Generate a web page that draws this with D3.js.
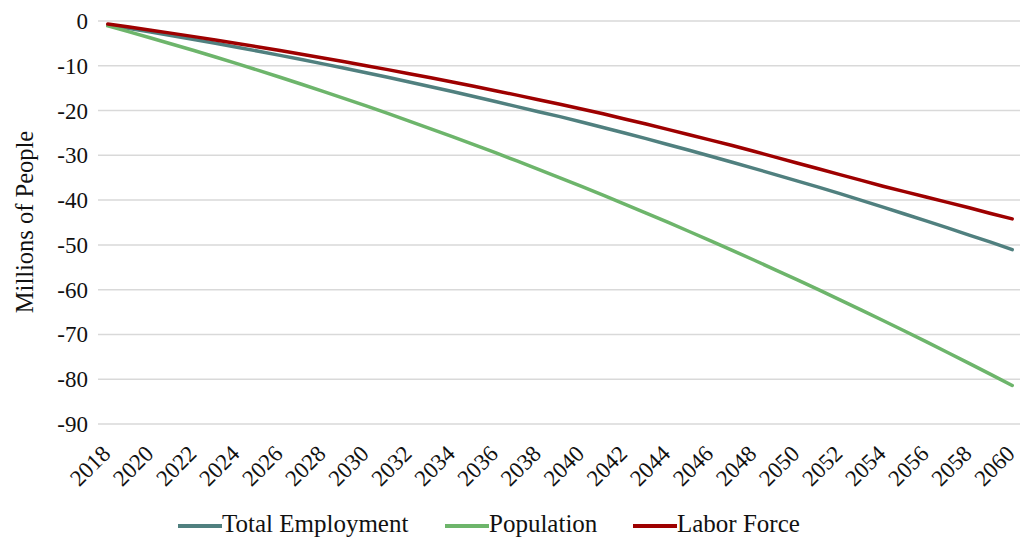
<!DOCTYPE html>
<html>
<head>
<meta charset="utf-8">
<script src="https://cdn.jsdelivr.net/npm/d3@7"></script>
<style>
  html, body { margin: 0; padding: 0; background: #fff; }
  svg { display: block; }
</style>
</head>
<body>
<svg id="chart" width="1020" height="539"></svg>
<script>
const years = d3.range(2018, 2061);
const yTicks = [0, -10, -20, -30, -40, -50, -60, -70, -80, -90];
const xTickYears = d3.range(2018, 2061, 2);

const totalEmployment = [
  -0.90, -1.68, -2.47, -3.29, -4.12, -4.98, -5.86, -6.75, -7.67, -8.61,
  -9.57, -10.55, -11.55, -12.57, -13.61, -14.67, -15.75, -16.85, -17.98, -19.12,
  -20.28, -21.36, -22.55, -23.77, -25.02, -26.28, -27.57, -28.87, -30.2, -31.54,
  -32.9, -34.3, -35.7, -37.1, -38.55, -40.05, -41.56, -43.1, -44.65, -46.2,
  -47.8, -49.4, -51.05
];
const population = [
  -1.10, -2.43, -3.80, -5.19, -6.60, -8.05, -9.52, -11.03, -12.56, -14.12,
  -15.71, -17.32, -18.97, -20.64, -22.34, -24.07, -25.82, -27.61, -29.42, -31.26,
  -33.13, -35.03, -36.96, -38.91, -40.89, -42.90, -44.94, -47.01, -49.11, -51.23,
  -53.38, -55.56, -57.77, -60.01, -62.27, -64.56, -66.89, -69.24, -71.61, -74.02,
  -76.45, -78.91, -81.41
];
const laborForce = [
  -0.67, -1.35, -2.05, -2.76, -3.49, -4.24, -5.01, -5.79, -6.60, -7.41,
  -8.25, -9.10, -9.98, -10.86, -11.77, -12.69, -13.63, -14.59, -15.57, -16.56,
  -17.57, -18.60, -19.64, -20.71, -21.9, -23.0, -24.2, -25.4, -26.6, -27.8,
  -29.1, -30.4, -31.7, -33.0, -34.3, -35.6, -36.9, -38.1, -39.3, -40.5,
  -41.7, -43.0, -44.2
];

const seriesNames = ["Total Employment", "Population", "Labor Force"];
const seriesColors = ["#50807f", "#6db56b", "#9e0000"];
const seriesData = [totalEmployment, population, laborForce];

const FONT = "'Liberation Serif', Tinos, 'Times New Roman', Times, 'DejaVu Serif', serif";

const svg = d3.select("#chart").attr("font-family", FONT);
svg.append("rect").attr("width", 1020).attr("height", 539).attr("fill", "#fff");

const x = d3.scalePoint().domain(years).range([97, 1023]).padding(0.5);
const y = d3.scaleLinear().domain([-90, 0]).range([424, 21]);

// gridlines
svg.append("g").selectAll("line").data(yTicks).join("line")
  .attr("x1", 98).attr("x2", 1020)
  .attr("y1", d => y(d)).attr("y2", d => y(d))
  .attr("stroke", "#d9d9d9").attr("stroke-width", 1.5);

// y tick labels
svg.append("g").selectAll("text").data(yTicks).join("text")
  .attr("x", 88).attr("y", d => y(d)).attr("dy", "0.35em")
  .attr("text-anchor", "end").attr("font-size", 23).attr("fill", "#111")
  .attr("font-family", FONT)
  .text(d => d);

// x tick labels
svg.append("g").selectAll("text").data(xTickYears).join("text")
  .attr("transform", d => `translate(${x(d) + 4},455) rotate(-45)`)
  .attr("text-anchor", "end").attr("font-size", 23).attr("fill", "#111")
  .attr("font-family", FONT)
  .text(d => d);

// y axis title
svg.append("text")
  .attr("transform", "translate(33,222) rotate(-90)")
  .attr("text-anchor", "middle").attr("font-size", 24.5).attr("fill", "#111")
  .attr("font-family", FONT)
  .text("Millions of People");

// lines
const line = d3.line().x((d, i) => x(years[i])).y(d => y(d));
svg.append("g").selectAll("path").data(seriesData).join("path")
  .attr("d", d => line(d))
  .attr("fill", "none")
  .attr("stroke", (d, i) => seriesColors[i])
  .attr("stroke-width", 3.5)
  .attr("stroke-linecap", "round")
  .attr("stroke-linejoin", "round");

// legend
const legendX = [178, 445, 633];
const lg = svg.append("g").selectAll("g").data(seriesNames).join("g")
  .attr("transform", (d, i) => `translate(${legendX[i]},526)`);
lg.append("line").attr("x1", 0).attr("x2", 44).attr("y1", 0).attr("y2", 0)
  .attr("stroke", (d, i) => seriesColors[i]).attr("stroke-width", 4);
lg.append("text").attr("x", 44).attr("y", 6).attr("font-size", 25).attr("fill", "#111")
  .attr("font-family", FONT)
  .text(d => d);
</script>
</body>
</html>
